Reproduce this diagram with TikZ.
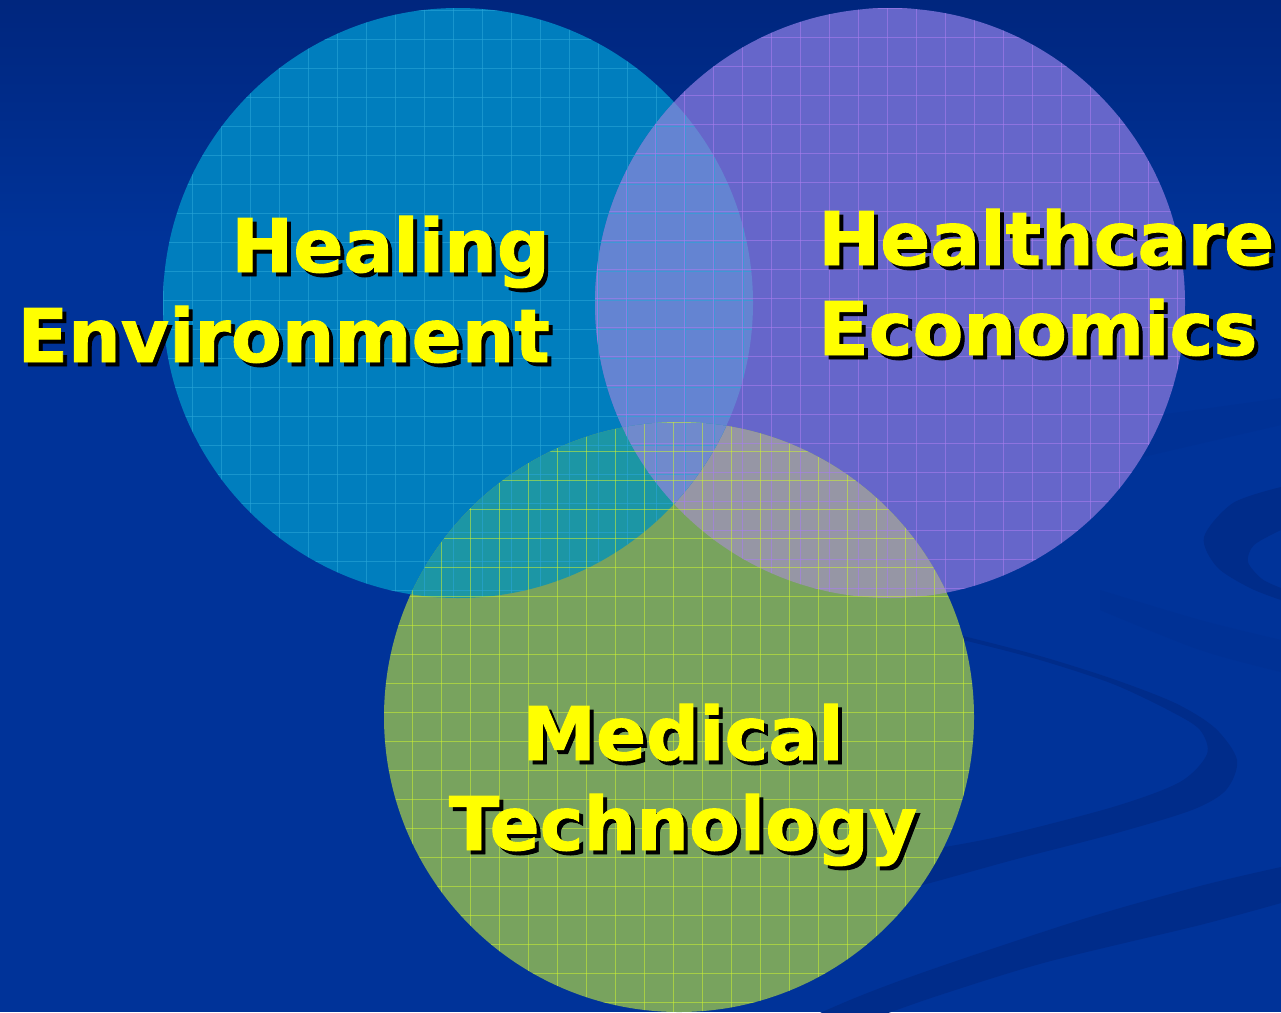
\documentclass[tikz,border=0pt]{standalone}
\usepackage{fontspec}
\setmainfont[BoldFeatures={FakeBold=1.2}]{DejaVu Sans}
\definecolor{bgtop}{RGB}{0,38,126}
\definecolor{bgmain}{RGB}{0,51,153}
\definecolor{swoosh}{RGB}{0,44,138}
\definecolor{swooshfaint}{RGB}{0,49,149}
\definecolor{colL}{RGB}{0,126,190}
\definecolor{colR}{RGB}{102,102,202}
\definecolor{colB}{RGB}{120,163,94}
\definecolor{colLR}{RGB}{100,132,210}
\definecolor{colLB}{RGB}{28,150,165}
\definecolor{colRB}{RGB}{150,150,165}
\definecolor{colLRB}{RGB}{112,138,204}
\definecolor{gridLc}{RGB}{40,165,215}
\definecolor{gridRc}{RGB}{168,125,238}
\definecolor{gridBc}{RGB}{205,242,50}
\definecolor{txtyellow}{RGB}{255,255,0}
\newcommand\shadtext[1]{\rlap{\kern4pt\raisebox{-4pt}{\textcolor{black}{#1}}}\textcolor{txtyellow}{#1}}
\newcommand\twolines[3]{\begin{tabular}[t]{@{}#1@{}}\shadtext{#2}\\\shadtext{#3}\end{tabular}}
\tikzset{
  lbl/.style={inner sep=0pt, font=\fontsize{74}{90}\selectfont\bfseries},
  gridL/.style={draw=gridLc, line width=1pt, opacity=0.6},
  gridR/.style={draw=gridRc, line width=1pt, opacity=0.6},
  gridB/.style={draw=gridBc, line width=1pt, opacity=0.55},
}
\begin{document}
\begin{tikzpicture}[x=1pt,y=-1pt]
\useasboundingbox (0,0) rectangle (1281,1012);
% background
\fill[bgmain] (0,0) rectangle (1281,1012);
\shade[top color=bgtop, bottom color=bgmain] (0,0) rectangle (1281,240);
\begin{scope}
\clip (0,0) rectangle (1281,1012);
% faint bands
\fill[swooshfaint] plot[smooth] coordinates {(1100,420) (1173,413) (1281,398)}
  -- plot[smooth] coordinates {(1281,425) (1143,457) (1100,468)} -- cycle;
\fill[swooshfaint] plot[smooth] coordinates {(1100,590) (1200,620) (1281,640)}
  -- plot[smooth] coordinates {(1281,672) (1200,650) (1100,610)} -- cycle;
% right crescent
\fill[swoosh] plot[smooth] coordinates {(1281,487) (1233,503) (1204,537) (1217,567) (1250,588) (1281,600)}
  -- plot[smooth] coordinates {(1281,588) (1262,579) (1248,562) (1254,545) (1281,530)} -- cycle;
% middle swoosh
\fill[swoosh] plot[smooth] coordinates {(900,622) (967,637) (1040,656) (1113,679) (1175,703) (1215,728) (1237,760) (1226,790) (1192,810) (1113,834) (1013,860) (930,883) (870,898)}
  -- plot[smooth] coordinates {(870,866) (913,853) (997,837) (1113,807) (1180,782) (1207,754) (1200,730) (1172,712) (1113,684) (1040,660) (967,641) (900,626)} -- cycle;
% bottom band
\fill[swoosh] plot[smooth] coordinates {(760,1040) (850,1000) (930,970) (1080,920) (1200,886) (1281,867)}
  -- (1300,867) -- (1300,903)
  -- plot[smooth] coordinates {(1281,903) (1200,925) (1047,962) (940,995) (880,1016)} -- (780,1060) -- cycle;
\end{scope}
% circle centres
\coordinate (cL) at (458,303);
\coordinate (cR) at (890,303);
\coordinate (cB) at (679,717);
% circle fills
\fill[colL] (cL) circle[radius=295pt];
\fill[colR] (cR) circle[radius=295pt];
\fill[colB] (cB) circle[radius=295pt];
\begin{scope}
  \clip (cR) circle[radius=295pt];
  \fill[colRB] (cB) circle[radius=295pt];
\end{scope}
\begin{scope}
  \clip (cL) circle[radius=295pt];
  \fill[colLR] (cR) circle[radius=295pt];
  \fill[colLB] (cB) circle[radius=295pt];
  \clip (cR) circle[radius=295pt];
  \fill[colLRB] (cB) circle[radius=295pt];
\end{scope}
% grids
\begin{scope}
  \clip (cL) circle[radius=295pt];
  \foreach \k in {0,...,44} \draw[gridL] ({18+29*\k},0) -- ({18+29*\k},1012);
  \foreach \k in {0,...,35} \draw[gridL] (0,{10+29*\k}) -- (1281,{10+29*\k});
\end{scope}
\begin{scope}
  \clip (cR) circle[radius=295pt];
  \foreach \k in {0,...,44} \draw[gridR] ({17+29*\k},0) -- ({17+29*\k},1012);
  \foreach \k in {0,...,35} \draw[gridR] (0,{8+29*\k}) -- (1281,{8+29*\k});
\end{scope}
\begin{scope}
  \clip (cB) circle[radius=295pt];
  \foreach \k in {0,...,44} \draw[gridB] ({6+29*\k},0) -- ({6+29*\k},1012);
  \foreach \k in {0,...,35} \draw[gridB] (0,{16+29*\k}) -- (1281,{16+29*\k});
\end{scope}
% labels (anchor base = baseline of first line)
\node[lbl, anchor=base east] (heal) at (550,272) {\twolines{r}{Healing}{Environment}};
\node[lbl, anchor=base west] (hc) at (818,265) {\twolines{l}{Healthcare}{Economics}};
\node[lbl, anchor=base] (med) at (683,760) {\twolines{c}{Medical}{Technology}};
\end{tikzpicture}
\end{document}
